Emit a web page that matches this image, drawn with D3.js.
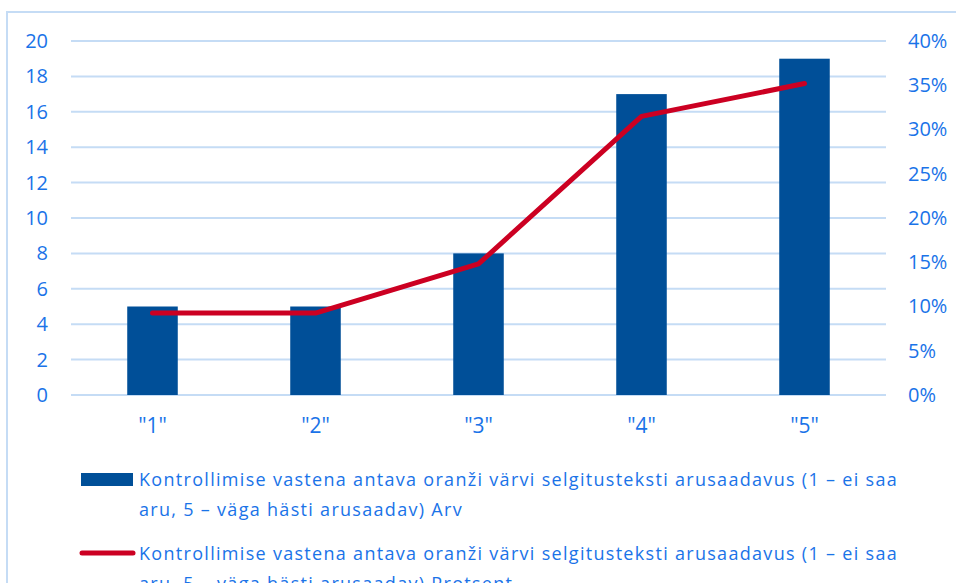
<!DOCTYPE html>
<head>
    <title>Arusaadavus</title>
</head>
<meta charset="utf-8">
<script src="https://d3js.org/d3.v7.min.js"></script>
<style>
  body { margin: 0; background: #fff; }
  text { font-family: "Open Sans", Lato, sans-serif; fill: #1a73e8; }
</style>
<body>
<div id="my_dataviz"></div>
<script>

var categories = ['"1"', '"2"', '"3"', '"4"', '"5"'];
var counts = [5, 5, 8, 17, 19];
var percents = [0.0926, 0.0926, 0.1481, 0.3148, 0.3519];
var leftTicks = [0, 2, 4, 6, 8, 10, 12, 14, 16, 18, 20];
var rightTicks = [0, 0.05, 0.10, 0.15, 0.20, 0.25, 0.30, 0.35, 0.40];
var legendLabels = [
  ["Kontrollimise vastena antava oranži värvi selgitusteksti arusaadavus (1 – ei saa", "aru, 5 – väga hästi arusaadav) Arv"],
  ["Kontrollimise vastena antava oranži värvi selgitusteksti arusaadavus (1 – ei saa", "aru, 5 – väga hästi arusaadav) Protsent"]
];

var W = 956, H = 583;
var plot = {left: 71, right: 886, top: 41, bottom: 395};

var svg = d3.select("#my_dataviz")
  .append("svg")
    .attr("width", W)
    .attr("height", H);

// chart frame
svg.append("rect")
  .attr("x", 7).attr("y", 12)
  .attr("width", W + 20).attr("height", H + 20)
  .style("fill", "none")
  .style("stroke", "#c5dcf5")
  .style("stroke-width", 2);

var x = d3.scaleBand()
  .domain(categories)
  .range([plot.left, plot.right])
  .paddingInner(0.69)
  .paddingOuter(0.345);

var y = d3.scaleLinear().domain([0, 20]).range([plot.bottom, plot.top]);
var y2 = d3.scaleLinear().domain([0, 0.4]).range([plot.bottom, plot.top]);

// gridlines
svg.selectAll("grid")
  .data(leftTicks).enter()
  .append("line")
    .attr("x1", plot.left).attr("x2", plot.right)
    .attr("y1", function(d) { return y(d); })
    .attr("y2", function(d) { return y(d); })
    .style("stroke", "#c5dcf5")
    .style("stroke-width", 2);

// left axis
var yAxis = svg.append("g")
  .attr("transform", "translate(" + plot.left + ",0)")
  .call(d3.axisLeft(y).tickValues(leftTicks).tickSize(0).tickPadding(23));
yAxis.select(".domain").remove();
yAxis.selectAll("text").style("font-size", "20px").attr("fill", "#1a73e8");

// right axis
var y2Axis = svg.append("g")
  .attr("transform", "translate(" + plot.right + ",0)")
  .call(d3.axisRight(y2).tickValues(rightTicks).tickSize(0).tickPadding(22).tickFormat(d3.format(".0%")));
y2Axis.select(".domain").remove();
y2Axis.selectAll("text").style("font-size", "20px").attr("fill", "#1a73e8");

// bars
svg.selectAll("bars")
  .data(counts).enter()
  .append("rect")
    .attr("x", function(d, i) { return x(categories[i]); })
    .attr("width", x.bandwidth())
    .attr("y", function(d) { return y(d); })
    .attr("height", function(d) { return y(0) - y(d); })
    .style("fill", "#004f98");

// category labels
svg.selectAll("catLabels")
  .data(categories).enter()
  .append("text")
    .attr("x", function(d) { return x(d) + x.bandwidth() / 2; })
    .attr("y", 433)
    .attr("text-anchor", "middle")
    .style("font-size", "21px")
    .text(function(d) { return d; });

// line
var line = d3.line()
  .x(function(d, i) { return x(categories[i]) + x.bandwidth() / 2; })
  .y(function(d) { return y2(d); });

svg.append("path")
  .datum(percents)
  .attr("d", line)
  .style("fill", "none")
  .style("stroke", "#cc0022")
  .style("stroke-width", 5)
  .style("stroke-linecap", "round")
  .style("stroke-linejoin", "round");

// legend
svg.append("rect")
  .attr("x", 81).attr("y", 473)
  .attr("width", 52).attr("height", 13)
  .style("fill", "#004f98");

svg.append("line")
  .attr("x1", 82).attr("x2", 133)
  .attr("y1", 553).attr("y2", 553)
  .style("stroke", "#cc0022")
  .style("stroke-width", 5)
  .style("stroke-linecap", "round");

var legendY = [486, 560];
legendLabels.forEach(function(lines, k) {
  var t = svg.append("text")
    .attr("x", 139)
    .attr("y", legendY[k])
    .style("font-size", "18px")
    .style("letter-spacing", "1.3px");
  lines.forEach(function(s, j) {
    t.append("tspan")
      .attr("x", 139)
      .attr("dy", j === 0 ? 0 : 30)
      .text(s);
  });
});

</script>
</body>
